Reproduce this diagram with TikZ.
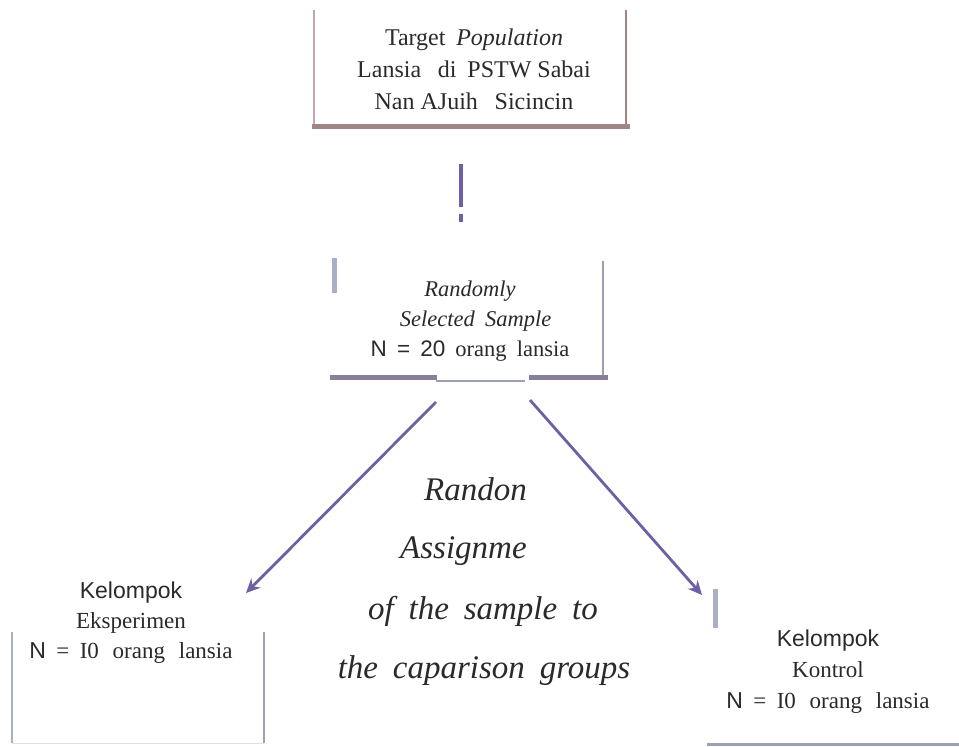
\documentclass[tikz,border=0pt]{standalone}
\usepackage{fontspec}
\setmainfont{Liberation Serif}
\newfontfamily\arialf{Liberation Sans}
\usetikzlibrary{arrows.meta}
\definecolor{rosel}{HTML}{C2A9AB}
\definecolor{roseb}{HTML}{A08587}
\definecolor{bluel}{HTML}{AAAFC6}
\definecolor{greyl}{HTML}{9D9FB3}
\definecolor{purb}{HTML}{8A7F9B}
\definecolor{arrowc}{HTML}{6E60A2}
\definecolor{txt}{HTML}{2A2A2A}
\newcommand{\gap}{\hspace{0.45em}}
\newcommand{\sgap}{\hspace{0.6em}}
\tikzset{
  lbl/.style={inner sep=0pt, text=txt, align=center},
  conn/.style={draw=arrowc, line width=2.8pt, -{Stealth[length=14pt,width=13pt]}},
}
\begin{document}
\begin{tikzpicture}[x=1pt,y=-1pt]
\useasboundingbox[fill=white] (0,0) rectangle (959,747);
% top box
\draw[rosel, line width=2pt] (314,10) -- (314,126);
\draw[roseb, line width=2pt] (626,10) -- (626,128);
\draw[roseb, line width=5pt] (312,126) -- (630,126);
\node[lbl, font=\fontsize{24}{32}\selectfont] (top) at (474,69)
  {Target\gap\textit{Population}\\Lansia\gap\ di\gap PSTW Sabai\\Nan AJuih\gap\ Sicincin};
% exclamation-like connector
\draw[arrowc, line width=4pt] (461,164) -- (461,207);
\draw[arrowc, line width=4pt] (461,214) -- (461,222);
% middle box
\draw[bluel, line width=5pt] (334,258) -- (334,293);
\draw[greyl, line width=2pt] (603,261) -- (603,379);
\draw[purb, line width=5pt] (330,377) -- (437,377);
\draw[greyl, line width=2pt] (436,381) -- (525,381);
\draw[purb, line width=5pt] (529,377) -- (608,377);
\node[lbl, font=\fontsize{22.5}{30}\selectfont] (mid) at (470,321)
  {\textit{Randomly}\\\hspace{0.5em}\textit{Selected\gap Sample}\\{\arialf N\gap=\gap 20}\gap orang\gap lansia};
% arrows
\coordinate (la) at (436,402);
\coordinate (lb) at (246,593);
\coordinate (ra) at (530,400);
\coordinate (rb) at (702,595);
\draw[conn] (la) -- (lb);
\draw[conn] (ra) -- (rb);
% random assignment text
\node[lbl, font=\fontsize{33}{60}\selectfont\itshape, anchor=west] (r1) at (424,489) {Randon};
\node[lbl, font=\fontsize{33}{60}\selectfont\itshape, anchor=west] (r2) at (400,551) {Assignme};
\node[lbl, font=\fontsize{33}{60}\selectfont\itshape] (r3) at (483,611) {of\gap the\gap sample\gap to};
\node[lbl, font=\fontsize{33}{60}\selectfont\itshape] (r4) at (484,671) {the\gap caparison\gap groups};
% bottom left box
\draw[bluel, line width=2pt] (12,632) -- (12,743);
\draw[greyl, line width=2pt] (264,632) -- (264,743);
\draw[black!12, line width=1pt] (12,743) -- (264,743);
\node[lbl, font=\fontsize{23}{30}\selectfont] (exp) at (131,623)
  {{\arialf Kelompok}\\Eksperimen\\{\arialf N}\gap=\gap I0\sgap orang\sgap lansia};
% bottom right box
\draw[bluel, line width=5pt] (715,589) -- (715,628);
\draw[greyl, line width=3pt] (707,744) -- (959,744);
\node[lbl, font=\fontsize{23}{31}\selectfont] (kon) at (828,672)
  {{\arialf Kelompok}\\Kontrol\\{\arialf N}\gap=\gap I0\sgap orang\sgap lansia};
\end{tikzpicture}
\end{document}
